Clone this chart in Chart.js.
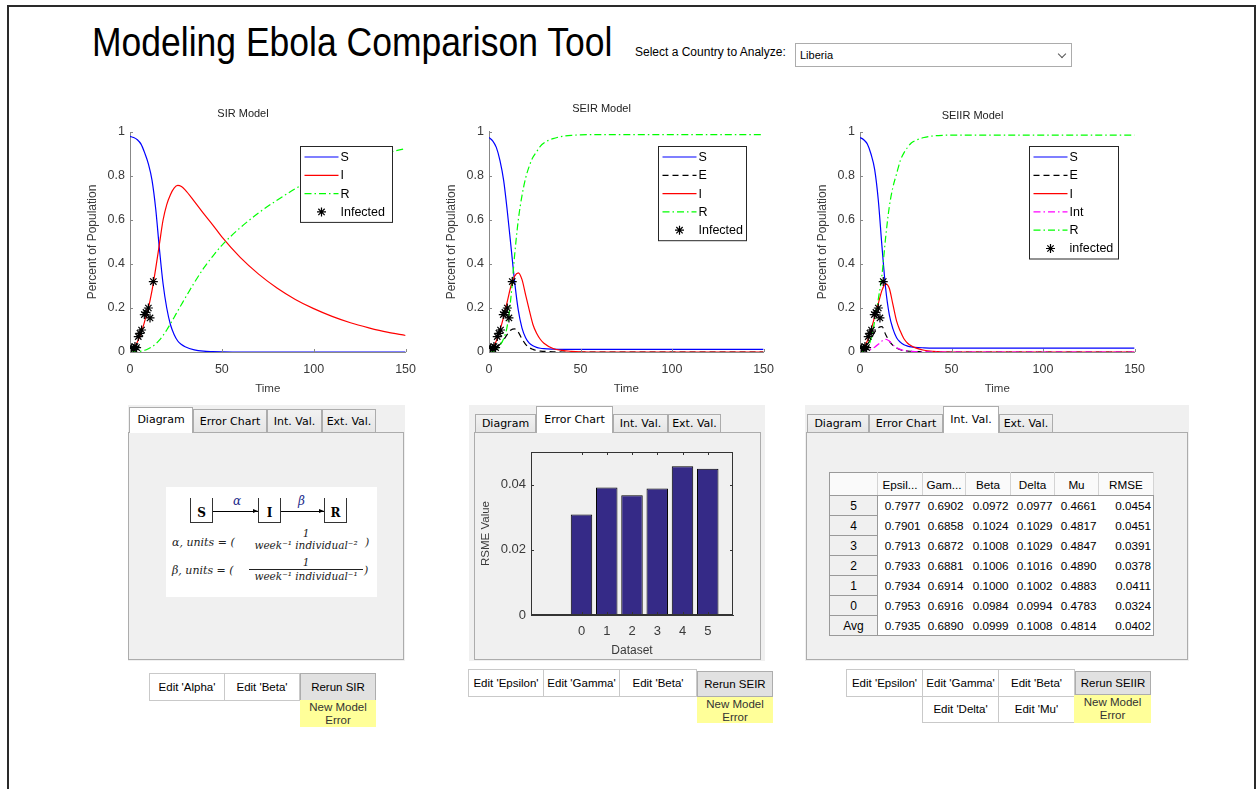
<!DOCTYPE html>
<html>
<head>
<meta charset="utf-8">
<script src="https://cdn.jsdelivr.net/npm/chart.js@4.4.0/dist/chart.umd.min.js"></script>
<style>
  body { margin: 0; width: 1257px; height: 789px; position: relative; overflow: hidden; background: #fff;
         font-family: 'Liberation Sans', Arial, sans-serif; }
  .abs { position: absolute; }
  #frame { left: 7px; top: 5px; width: 1245px; height: 800px; border-top: 2px solid #2a2a2a;
           border-left: 2px solid #2a2a2a; border-right: 2px solid #2a2a2a; }
  #mainTitle { left: 92px; top: 27px; font-size: 35.5px; line-height: 35px; color: #000; white-space: nowrap;
               transform: scaleY(1.12); transform-origin: 0 30px; }
  #pick { left: 635px; top: 45px; font-size: 12px; color: #000; white-space: nowrap; }
  #drop { left: 795px; top: 43px; width: 277px; height: 24px; border: 1px solid #acacac; box-sizing: border-box;
          background: #fff; font-size: 11px; line-height: 22px; padding-left: 4px; }
  #drop .chev { position: absolute; right: 6px; top: 7px; width: 5px; height: 5px; border-right: 1px solid #555;
                border-bottom: 1px solid #555; transform: rotate(45deg); }
  .grp { background: #f0f0f0; }
  .tab { position: absolute; box-sizing: border-box; border: 1px solid #acacac; border-bottom: none;
         background: linear-gradient(#f2f2f2, #e5e5e5); font-family: 'DejaVu Sans', sans-serif; font-size: 11px;
         color: #000; text-align: center; white-space: nowrap; }
  .tab.on { background: #fff; z-index: 2; }
  .pane { position: absolute; box-sizing: border-box; border: 1px solid #acacac; background: #f0f0f0; }
  .btn { position: absolute; box-sizing: border-box; border: 1px solid #c9c9c9; background: #fff;
         font-size: 11.5px; color: #000; text-align: center; white-space: nowrap; }
  .btn.run { background: #e1e1e1; border-color: #adadad; }
  .btn.warn { background: #ffff99; border: none; color: #333; line-height: 13px; padding-top: 1px; }
  #diag { left: 166px; top: 487px; width: 211px; height: 110px; background: #fff; }
  .blk { position: absolute; width: 23px; height: 25px; box-sizing: border-box; border: 1px solid #333; border-top: none;
         font-family: 'DejaVu Serif', serif; font-weight: bold; font-size: 12px; text-align: center; line-height: 30px; }
  .arr { position: absolute; height: 1px; background: #000; }
  .arr::after { content: ''; position: absolute; right: 0; top: -2px; border-left: 5px solid #000;
                border-top: 2.5px solid transparent; border-bottom: 2.5px solid transparent; }
  .greek { position: absolute; font-family: 'DejaVu Serif', serif; font-style: italic; font-size: 12px; color: #1b2a8a; }
  .fml { position: absolute; font-family: 'DejaVu Serif', serif; font-style: italic; font-size: 11px; color: #222; white-space: nowrap; }
  .frac { position: absolute; text-align: center; font-family: 'DejaVu Serif', serif; font-style: italic; font-size: 10.5px;
          color: #222; white-space: nowrap; }
  #tbl { left: 829px; top: 472px; border-collapse: collapse; font-size: 11.7px; background: #fff;
         border: 1px solid #9a9a9a; table-layout: fixed; }
  #tbl th { font-weight: normal; height: 22px; border-right: 1px solid #d4d4d4; border-bottom: 1px solid #9a9a9a;
            background: #fafafa; padding: 0; text-align: center; }
  #tbl td { height: 19px; padding: 0 2px 0 0; text-align: right; white-space: nowrap; }
  #tbl td.rh { text-align: center; background: #f0f0f0; border-right: 1px solid #9a9a9a; border-bottom: 1px solid #9a9a9a;
               padding: 0; font-size: 12px; }
  canvas { position: absolute; }
</style>
</head>
<body>
<div id="frame" class="abs"></div>
<div id="mainTitle" class="abs">Modeling Ebola Comparison Tool</div>
<div id="pick" class="abs">Select a Country to Analyze:</div>
<div id="drop" class="abs">Liberia<span class="chev"></span></div>

<canvas id="sirChart" width="346" height="300" style="left:80px;top:100px"></canvas>
<canvas id="seirChart" width="345" height="300" style="left:439px;top:100px"></canvas>
<canvas id="seiirChart" width="345" height="300" style="left:810px;top:100px"></canvas>

<!-- panneau 1 : diagramme SIR -->
<div class="abs grp" style="left:128px;top:405px;width:277px;height:256px"></div>
<div class="tab on" style="left:129px;top:407px;width:64px;height:26px;line-height:24px">Diagram</div>
<div class="tab" style="left:193px;top:409px;width:74px;height:23px;line-height:23px">Error Chart</div>
<div class="tab" style="left:267px;top:409px;width:55px;height:23px;line-height:23px">Int. Val.</div>
<div class="tab" style="left:322px;top:409px;width:54px;height:23px;line-height:23px">Ext. Val.</div>
<div class="pane" style="left:128px;top:432px;width:276px;height:228px"></div>
<div id="diag" class="abs">
  <div class="blk" style="left:24px;top:11px">S</div>
  <div class="arr" style="left:47px;top:24px;width:45px"></div>
  <div class="greek" style="left:67px;top:7px">α</div>
  <div class="blk" style="left:92px;top:11px">I</div>
  <div class="arr" style="left:115px;top:24px;width:43px"></div>
  <div class="greek" style="left:132px;top:7px">β</div>
  <div class="blk" style="left:158px;top:11px">R</div>
  <div class="fml" style="left:6px;top:49px">α, units = (</div>
  <div class="frac" style="left:82px;top:40px;width:116px">1<br>week⁻¹ individual⁻²</div>
  <div class="fml" style="left:199px;top:49px">)</div>
  <div class="fml" style="left:6px;top:77px">β, units = (</div>
  <div class="frac" style="left:82px;top:69px;width:116px;line-height:13px">1<br><span style="border-top:1px solid #222;display:inline-block;width:114px">week⁻¹ individual⁻¹</span></div>
  <div class="fml" style="left:198px;top:77px">)</div>
</div>
<div class="btn" style="left:149px;top:673px;width:76px;height:28px;line-height:26px">Edit 'Alpha'</div>
<div class="btn" style="left:224px;top:673px;width:76px;height:28px;line-height:26px">Edit 'Beta'</div>
<div class="btn run" style="left:300px;top:673px;width:76px;height:28px;line-height:26px">Rerun SIR</div>
<div class="btn warn" style="left:300px;top:700px;width:76px;height:27px">New Model<br>Error</div>

<!-- panneau 2 : erreurs SEIR -->
<div class="abs grp" style="left:469px;top:405px;width:296px;height:256px"></div>
<div class="tab" style="left:475px;top:414px;width:61px;height:18px;line-height:18px">Diagram</div>
<div class="tab on" style="left:536px;top:406px;width:77px;height:27px;line-height:25px">Error Chart</div>
<div class="tab" style="left:613px;top:414px;width:55px;height:18px;line-height:18px">Int. Val.</div>
<div class="tab" style="left:668px;top:414px;width:53px;height:18px;line-height:18px">Ext. Val.</div>
<div class="pane" style="left:474px;top:432px;width:287px;height:228px"></div>
<canvas id="errChart" width="280" height="222" style="left:474px;top:437px"></canvas>
<div class="btn" style="left:468px;top:669px;width:76px;height:28px;line-height:26px">Edit 'Epsilon'</div>
<div class="btn" style="left:543px;top:669px;width:77px;height:28px;line-height:26px">Edit 'Gamma'</div>
<div class="btn" style="left:619px;top:669px;width:78px;height:28px;line-height:26px">Edit 'Beta'</div>
<div class="btn run" style="left:697px;top:671px;width:76px;height:26px;line-height:24px">Rerun SEIR</div>
<div class="btn warn" style="left:697px;top:697px;width:76px;height:26px">New Model<br>Error</div>

<!-- panneau 3 : table SEIIR -->
<div class="abs grp" style="left:805px;top:405px;width:384px;height:256px"></div>
<div class="tab" style="left:807px;top:414px;width:62px;height:18px;line-height:18px">Diagram</div>
<div class="tab" style="left:869px;top:414px;width:74px;height:18px;line-height:18px">Error Chart</div>
<div class="tab on" style="left:943px;top:406px;width:56px;height:27px;line-height:25px">Int. Val.</div>
<div class="tab" style="left:999px;top:414px;width:54px;height:18px;line-height:18px">Ext. Val.</div>
<div class="pane" style="left:806px;top:432px;width:382px;height:228px"></div>
<table id="tbl" class="abs"></table>
<div class="btn" style="left:846px;top:669px;width:77px;height:28px;line-height:26px">Edit 'Epsilon'</div>
<div class="btn" style="left:922px;top:669px;width:77px;height:28px;line-height:26px">Edit 'Gamma'</div>
<div class="btn" style="left:998px;top:669px;width:77px;height:28px;line-height:26px">Edit 'Beta'</div>
<div class="btn run" style="left:1075px;top:671px;width:76px;height:24px;line-height:22px">Rerun SEIIR</div>
<div class="btn" style="left:922px;top:696px;width:77px;height:27px;line-height:25px">Edit 'Delta'</div>
<div class="btn" style="left:998px;top:696px;width:77px;height:27px;line-height:25px">Edit 'Mu'</div>
<div class="btn warn" style="left:1074px;top:695px;width:77px;height:28px">New Model<br>Error</div>

<script>
// temps (semaines) commun aux trois modeles
const timeWeeks = [0, 2, 4, 6, 8, 10, 12, 14, 16, 18, 20, 22, 24, 26, 28, 30, 35, 40, 45, 50, 60, 70, 80, 90, 100, 110, 120, 130, 140, 150];

// SIR
const sirS = [0.98, 0.975, 0.965, 0.945, 0.905, 0.855, 0.78, 0.65, 0.47, 0.31, 0.2, 0.125, 0.08, 0.05, 0.034, 0.024, 0.01, 0.004, 0.002, 0.001, 0, 0, 0, 0, 0, 0, 0, 0, 0, 0];
const sirI = [0.01, 0.02, 0.045, 0.085, 0.14, 0.2, 0.28, 0.38, 0.49, 0.6, 0.67, 0.715, 0.745, 0.757, 0.752, 0.737, 0.685, 0.63, 0.578, 0.523, 0.43, 0.354, 0.291, 0.239, 0.197, 0.162, 0.133, 0.11, 0.09, 0.075];
const sirR = [0, 0.001, 0.002, 0.004, 0.008, 0.015, 0.024, 0.037, 0.054, 0.075, 0.1, 0.128, 0.157, 0.187, 0.216, 0.245, 0.315, 0.38, 0.435, 0.485, 0.565, 0.632, 0.69, 0.742, 0.787, 0.825, 0.856, 0.882, 0.905, 0.925];

// SEIR
const seirS = [0.975, 0.96, 0.93, 0.87, 0.78, 0.64, 0.48, 0.32, 0.19, 0.11, 0.065, 0.04, 0.028, 0.021, 0.017, 0.015, 0.013, 0.012, 0.012, 0.012, 0.012, 0.012, 0.012, 0.012, 0.012, 0.012, 0.012, 0.012, 0.012, 0.012];
const seirE = [0.005, 0.01, 0.02, 0.035, 0.055, 0.08, 0.1, 0.105, 0.09, 0.06, 0.035, 0.02, 0.012, 0.007, 0.004, 0.003, 0.001, 0, 0, 0, 0, 0, 0, 0, 0, 0, 0, 0, 0, 0];
const seirI = [0.01, 0.02, 0.05, 0.1, 0.16, 0.23, 0.3, 0.345, 0.36, 0.33, 0.26, 0.19, 0.125, 0.085, 0.058, 0.04, 0.016, 0.007, 0.003, 0.001, 0, 0, 0, 0, 0, 0, 0, 0, 0, 0];
const seirR = [0, 0.002, 0.01, 0.03, 0.06, 0.12, 0.25, 0.44, 0.6, 0.71, 0.79, 0.845, 0.885, 0.91, 0.935, 0.95, 0.97, 0.98, 0.985, 0.987, 0.988, 0.988, 0.988, 0.988, 0.988, 0.988, 0.988, 0.988, 0.988, 0.988];

// SEIIR
const seiirS = [0.975, 0.965, 0.945, 0.9, 0.83, 0.69, 0.48, 0.29, 0.17, 0.105, 0.065, 0.045, 0.033, 0.027, 0.023, 0.021, 0.019, 0.018, 0.018, 0.018, 0.018, 0.018, 0.018, 0.018, 0.018, 0.018, 0.018, 0.018, 0.018, 0.018];
const seiirE = [0.005, 0.015, 0.035, 0.06, 0.09, 0.11, 0.115, 0.08, 0.05, 0.03, 0.018, 0.01, 0.006, 0.004, 0.003, 0.002, 0.001, 0, 0, 0, 0, 0, 0, 0, 0, 0, 0, 0, 0, 0];
const seiirI = [0.01, 0.02, 0.05, 0.1, 0.16, 0.22, 0.28, 0.31, 0.29, 0.215, 0.14, 0.095, 0.06, 0.04, 0.028, 0.02, 0.008, 0.003, 0.001, 0, 0, 0, 0, 0, 0, 0, 0, 0, 0, 0];
const seiirInt = [0, 0.002, 0.006, 0.012, 0.022, 0.035, 0.05, 0.058, 0.05, 0.032, 0.02, 0.012, 0.007, 0.004, 0.003, 0.002, 0.001, 0, 0, 0, 0, 0, 0, 0, 0, 0, 0, 0, 0, 0];
const seiirR = [0, 0.003, 0.015, 0.06, 0.14, 0.24, 0.35, 0.52, 0.66, 0.75, 0.81, 0.87, 0.905, 0.93, 0.95, 0.96, 0.975, 0.982, 0.985, 0.986, 0.986, 0.986, 0.986, 0.986, 0.986, 0.986, 0.986, 0.986, 0.986, 0.986];

// cas observes (etoiles)
const infectedTime = [0.9, 1.8, 2.7, 3.6, 4.5, 5.4, 6.3, 7.8, 8.7, 10, 10.9, 12.7];
const infectedValue = [0.018, 0.015, 0.025, 0.02, 0.07, 0.085, 0.1, 0.17, 0.18, 0.2, 0.155, 0.32];

const timeTicks = [0, 50, 100, 150];
const popTicks = [0, 0.2, 0.4, 0.6, 0.8, 1];

// erreur SEIR par jeu de donnees
const datasetIds = [0, 1, 2, 3, 4, 5];
const rsmeValues = [0.0308, 0.0391, 0.0367, 0.0388, 0.0456, 0.0449];
const rsmeTicks = [0, 0.02, 0.04];

// table Int. Val. (SEIIR)
const tblHeaders = ['', 'Epsil...', 'Gam...', 'Beta', 'Delta', 'Mu', 'RMSE'];
const tblRowNames = ['5', '4', '3', '2', '1', '0', 'Avg'];
const tblEpsilon = [0.7977, 0.7901, 0.7913, 0.7933, 0.7934, 0.7953, 0.7935];
const tblGamma = [0.6902, 0.6858, 0.6872, 0.6881, 0.6914, 0.6916, 0.6890];
const tblBeta = [0.0972, 0.1024, 0.1008, 0.1006, 0.1000, 0.0984, 0.0999];
const tblDelta = [0.0977, 0.1029, 0.1029, 0.1016, 0.1002, 0.0994, 0.1008];
const tblMu = [0.4661, 0.4817, 0.4847, 0.4890, 0.4883, 0.4783, 0.4814];
const tblRmse = [0.0454, 0.0451, 0.0391, 0.0378, 0.0411, 0.0324, 0.0402];

Chart.defaults.font.family = "'Liberation Sans', Arial, sans-serif";
Chart.defaults.color = '#3a3a3a';

const pts = (xs, ys) => xs.map((x, i) => ({ x: x, y: ys[i] }));
const plainNum = v => String(v);

function drawStar(ctx, x, y, r) {
    ctx.beginPath();
    ctx.setLineDash([]);
    ctx.strokeStyle = '#000';
    ctx.lineWidth = 1.2;
    for (let k = 0; k < 4; k++) {
        const a = k * Math.PI / 4;
        ctx.moveTo(x - r * Math.cos(a), y - r * Math.sin(a));
        ctx.lineTo(x + r * Math.cos(a), y + r * Math.sin(a));
    }
    ctx.stroke();
}

// legende encadree facon matlab, dans la zone du graphe
const boxLegend = {
    id: 'boxLegend',
    afterDatasetsDraw(chart, args, opts) {
        const { ctx, chartArea } = chart;
        const sets = chart.data.datasets;
        const rowH = 18.3;
        const h = 21 + (sets.length - 1) * rowH;
        const x0 = Math.round(chartArea.right - opts.right - opts.width) + 0.5;
        const y0 = Math.round(chartArea.top + opts.top) + 0.5;
        ctx.save();
        ctx.fillStyle = '#fff';
        ctx.fillRect(x0, y0, opts.width, h);
        ctx.strokeStyle = '#262626';
        ctx.lineWidth = 1;
        ctx.strokeRect(x0, y0, opts.width, h);
        ctx.font = "12.5px 'Liberation Sans', Arial, sans-serif";
        ctx.textBaseline = 'middle';
        sets.forEach((ds, i) => {
            const cy = y0 + 10.5 + i * rowH;
            if (ds.showLine === false) {
                drawStar(ctx, x0 + 21, cy, 4.5);
            } else {
                ctx.beginPath();
                ctx.setLineDash(ds.borderDash || []);
                ctx.strokeStyle = ds.borderColor;
                ctx.lineWidth = ds.borderWidth;
                ctx.moveTo(x0 + 4, cy);
                ctx.lineTo(x0 + 38, cy);
                ctx.stroke();
                ctx.setLineDash([]);
            }
            ctx.fillStyle = '#000';
            ctx.fillText(ds.label, x0 + 40, cy + 0.5);
        });
        ctx.restore();
    }
};

// petites graduations vers l'interieur (et cadre pour le graphe en barres)
const innerTicks = {
    id: 'innerTicks',
    afterDraw(chart, args, opts) {
        const { ctx, chartArea: a, scales } = chart;
        ctx.save();
        ctx.strokeStyle = opts.color;
        ctx.lineWidth = 1;
        ctx.beginPath();
        scales.x.ticks.forEach(t => {
            const px = Math.round(scales.x.getPixelForValue(t.value)) + 0.5;
            ctx.moveTo(px, a.bottom); ctx.lineTo(px, a.bottom - 3);
            if (opts.box) { ctx.moveTo(px, a.top); ctx.lineTo(px, a.top + 3); }
        });
        scales.y.ticks.forEach(t => {
            const py = Math.round(scales.y.getPixelForValue(t.value)) + 0.5;
            ctx.moveTo(a.left, py); ctx.lineTo(a.left + 3, py);
            if (opts.box) { ctx.moveTo(a.right, py); ctx.lineTo(a.right - 3, py); }
        });
        ctx.stroke();
        if (opts.box) {
            ctx.strokeRect(Math.round(a.left) + 0.5, Math.round(a.top) + 0.5, Math.round(a.width) - 1, Math.round(a.height) - 1);
        }
        ctx.restore();
    }
};

function curve(label, ys, color, dash) {
    return {
        label: label, data: pts(timeWeeks, ys), borderColor: color, borderWidth: 1.2,
        borderDash: dash, pointRadius: 0, fill: false, cubicInterpolationMode: 'monotone'
    };
}

function infectedSet(label) {
    return {
        label: label, data: pts(infectedTime, infectedValue), showLine: false, order: 0,
        pointStyle: 'star', pointRadius: 4.5, pointBorderColor: '#000', pointBorderWidth: 1.2,
        pointBackgroundColor: '#000'
    };
}

function modelChart(id, title, titlePad, curves, infLabel, legendPos) {
    const sets = curves.map((c, i) => Object.assign(c, { order: curves.length - i }));
    sets.push(infectedSet(infLabel));
    return new Chart(document.getElementById(id), {
        type: 'line',
        data: { datasets: sets },
        options: {
            responsive: false,
            animation: false,
            layout: { padding: { top: 0, right: 20, bottom: 2, left: 0 } },
            plugins: {
                legend: { display: false },
                tooltip: { enabled: false },
                title: { display: true, text: title, color: '#222', font: { size: 11, weight: 'normal' }, padding: titlePad },
                boxLegend: { right: legendPos.right, top: 14, width: legendPos.width },
                innerTicks: { color: '#888', box: false }
            },
            scales: {
                x: {
                    type: 'linear', min: 0, max: 150,
                    grid: { display: false, drawTicks: false },
                    border: { color: '#888' },
                    ticks: { padding: 10, color: '#3a3a3a', font: { size: 12.5 }, callback: plainNum },
                    afterBuildTicks: s => { s.ticks = timeTicks.map(v => ({ value: v })); },
                    title: { display: true, text: 'Time', color: '#3a3a3a', font: { size: 11.5 }, padding: { top: 0, bottom: 2.5 } },
                    afterFit: s => { s.height = 46; }
                },
                y: {
                    min: 0, max: 1,
                    grid: { display: false, drawTicks: false },
                    border: { color: '#888' },
                    ticks: { padding: 5, color: '#3a3a3a', font: { size: 12.5 }, callback: plainNum },
                    afterBuildTicks: s => { s.ticks = popTicks.map(v => ({ value: v })); },
                    title: { display: true, text: 'Percent of Population', color: '#3a3a3a', font: { size: 12 }, padding: { top: 5.4, bottom: 0 } },
                    afterFit: s => { s.width = 50; }
                }
            }
        },
        plugins: [boxLegend, innerTicks]
    });
}

const solid = [];
const dashDot = [7, 3, 1.5, 3];
const dashed = [6, 4];

modelChart('sirChart', 'SIR Model', { top: 7.4, bottom: 11.4 }, [
    curve('S', sirS, '#0000ff', solid),
    curve('I', sirI, '#ff0000', solid),
    curve('R', sirR, '#00ff00', dashDot)
], 'Infected', { right: 14, width: 92 });

modelChart('seirChart', 'SEIR Model', { top: 2.4, bottom: 16.4 }, [
    curve('S', seirS, '#0000ff', solid),
    curve('E', seirE, '#000000', dashed),
    curve('I', seirI, '#ff0000', solid),
    curve('R', seirR, '#00ff00', dashDot)
], 'Infected', { right: 18, width: 88 });

modelChart('seiirChart', 'SEIIR Model', { top: 9.4, bottom: 9.4 }, [
    curve('S', seiirS, '#0000ff', solid),
    curve('E', seiirE, '#000000', dashed),
    curve('I', seiirI, '#ff0000', solid),
    curve('Int', seiirInt, '#ff00ff', dashDot),
    curve('R', seiirR, '#00ff00', dashDot)
], 'infected', { right: 17, width: 89 });

// graphe des erreurs (onglet Error Chart)
new Chart(document.getElementById('errChart'), {
    type: 'bar',
    data: {
        datasets: [{
            label: 'RSME', data: pts(datasetIds, rsmeValues),
            backgroundColor: '#352a87', borderColor: '#000', borderWidth: 1, borderSkipped: false,
            categoryPercentage: 0.85, barPercentage: 1
        }]
    },
    options: {
        responsive: false,
        animation: false,
        layout: { padding: { top: 15, right: 21, bottom: 0, left: 0 } },
        plugins: {
            legend: { display: false },
            tooltip: { enabled: false },
            innerTicks: { color: '#333', box: true }
        },
        scales: {
            x: {
                type: 'linear', min: -2, max: 6, offset: false,
                grid: { display: false, drawTicks: false },
                border: { color: '#333' },
                ticks: { padding: 9, color: '#3a3a3a', font: { size: 13 } },
                afterBuildTicks: s => { s.ticks = datasetIds.map(v => ({ value: v })); },
                title: { display: true, text: 'Dataset', color: '#3a3a3a', font: { size: 12 }, padding: { top: 0, bottom: 1 } },
                afterFit: s => { s.height = 44; }
            },
            y: {
                min: 0, max: 0.05,
                grid: { display: false, drawTicks: false },
                border: { color: '#333' },
                ticks: { padding: 5, color: '#3a3a3a', font: { size: 13 }, callback: plainNum },
                afterBuildTicks: s => { s.ticks = rsmeTicks.map(v => ({ value: v })); },
                title: { display: true, text: 'RSME Value', color: '#3a3a3a', font: { size: 11.5 }, padding: { top: 4.6, bottom: 0 } },
                afterFit: s => { s.width = 57; }
            }
        }
    },
    plugins: [innerTicks]
});

// table des valeurs internes
const tbl = document.getElementById('tbl');
const colW = [48, 45, 43, 45, 44, 44, 55];
let html = '<colgroup>' + colW.map(w => '<col style="width:' + w + 'px">').join('') + '</colgroup>';
html += '<tr>' + tblHeaders.map(h => '<th>' + h + '</th>').join('') + '</tr>';
tblRowNames.forEach((name, i) => {
    const vals = [tblEpsilon[i], tblGamma[i], tblBeta[i], tblDelta[i], tblMu[i], tblRmse[i]];
    html += '<tr><td class="rh">' + name + '</td>' + vals.map(v => '<td>' + v.toFixed(4) + '</td>').join('') + '</tr>';
});
tbl.innerHTML = html;
</script>
</body>
</html>
